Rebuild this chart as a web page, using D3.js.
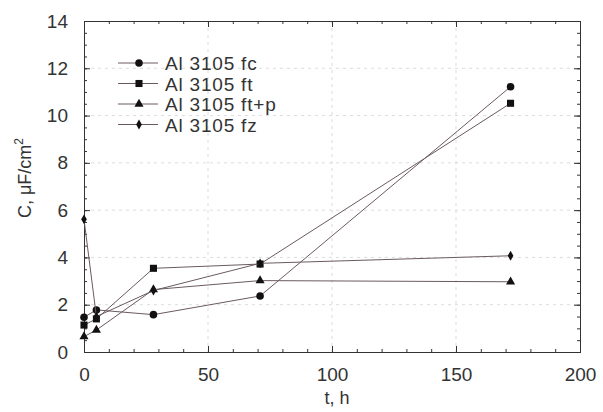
<!DOCTYPE html>
<html><head><meta charset="utf-8">
<script src="https://cdn.jsdelivr.net/npm/d3@7"></script>
<style>body{margin:0;background:#fff}text{font-family:"Liberation Sans",Arial,sans-serif;fill:#333}</style>
</head><body><svg id="c" width="603" height="412"></svg>
<script>
const times = [0, 5, 28, 71, 172];
const seriesNames = ["Al 3105 fc", "Al 3105 ft", "Al 3105 ft+p", "Al 3105 fz"];
const fcValues = [1.47, 1.78, 1.58, 2.37, 11.22];
const ftValues = [1.14, 1.40, 3.54, 3.72, 10.52];
const ftpValues = [0.65, 0.93, 2.64, 3.02, 2.97];
const fzValues = [5.61, 1.50, 2.60, 3.75, 4.07];
const markers = ["circle", "square", "triangle", "diamond"];
const xTicks = [0, 50, 100, 150, 200];
const yTicks = [0, 2, 4, 6, 8, 10, 12, 14];

const svg = d3.select("#c");
const L = 84, R = 580, T = 21, B = 352;
const x = d3.scaleLinear().domain([0, 200]).range([L, R]);
const y = d3.scaleLinear().domain([0, 14]).range([B, T]);
const ink = "#333";

// gridlines
const g = svg.append("g");
g.selectAll("line.gy").data(yTicks.slice(1, -1)).join("line")
  .attr("x1", L).attr("x2", R).attr("y1", d => y(d)).attr("y2", d => y(d))
  .attr("stroke", "#ccc").attr("stroke-width", 0.7).attr("stroke-dasharray", "3,4");
g.selectAll("line.gx").data(xTicks.slice(1, -1)).join("line")
  .attr("y1", T).attr("y2", B).attr("x1", d => x(d)).attr("x2", d => x(d))
  .attr("stroke", "#ccc").attr("stroke-width", 0.7).attr("stroke-dasharray", "3,4");

// axes (ticks on all four sides, inward)
const xMinor = d3.range(0, 201, 10), yMinor = d3.range(0, 14.01, 0.5);
function axisGroup(axis, tr) {
  const a = svg.append("g").attr("transform", tr).call(axis);
  a.select(".domain").attr("stroke", ink).attr("stroke-width", 1);
  a.selectAll(".tick line").attr("stroke", ink);
  return a;
}
axisGroup(d3.axisBottom(x).tickValues(xMinor).tickSize(-3).tickFormat(""), `translate(0,${B})`);
axisGroup(d3.axisTop(x).tickValues(xMinor).tickSize(-3).tickFormat(""), `translate(0,${T})`);
axisGroup(d3.axisLeft(y).tickValues(yMinor).tickSize(-3).tickFormat(""), `translate(${L},0)`);
axisGroup(d3.axisRight(y).tickValues(yMinor).tickSize(-3).tickFormat(""), `translate(${R},0)`);
const xb = axisGroup(d3.axisBottom(x).tickValues(xTicks).tickSize(-6).tickPadding(16).tickFormat(d3.format("d")), `translate(0,${B})`);
xb.selectAll("text").attr("font-size", 19).attr("fill", "#333");
axisGroup(d3.axisTop(x).tickValues(xTicks).tickSize(-6).tickFormat(""), `translate(0,${T})`);
const yl = axisGroup(d3.axisLeft(y).tickValues(yTicks).tickSize(-6).tickPadding(16).tickFormat(d3.format("d")), `translate(${L},0)`);
yl.selectAll("text").attr("font-size", 19).attr("fill", "#333");
axisGroup(d3.axisRight(y).tickValues(yTicks).tickSize(-6).tickFormat(""), `translate(${R},0)`);
svg.selectAll(".domain").attr("fill", "none");
svg.selectAll("g").attr("font-family", null);

// axis titles
svg.append("text").attr("x", 337).attr("y", 404).attr("text-anchor", "middle")
  .attr("font-size", 18).text("t, h");
const yt = svg.append("text").attr("transform", "translate(31,178) rotate(-90)")
  .attr("text-anchor", "middle").attr("font-size", 18);
yt.append("tspan").text("C, μF/cm");
yt.append("tspan").attr("font-size", 12).attr("dy", -8).text("2");

// series
const allSeries = [fcValues, ftValues, ftpValues, fzValues];
const symbolFor = {
  circle: d3.symbol().type(d3.symbolCircle).size(45),
  square: d3.symbol().type(d3.symbolSquare).size(50),
  triangle: d3.symbol().type(d3.symbolTriangle).size(36),
  diamond: d3.symbol().type(d3.symbolDiamond).size(28)
};
const line = d3.line().x(d => x(d[0])).y(d => y(d[1]));
allSeries.forEach((vals, i) => {
  const pts = times.map((t, j) => [t, vals[j]]);
  svg.append("path").attr("d", line(pts)).attr("fill", "none")
    .attr("stroke", "#6a5a5e").attr("stroke-width", 1);
  svg.selectAll(null).data(pts).join("path")
    .attr("transform", d => `translate(${x(d[0])},${y(d[1])})`)
    .attr("d", symbolFor[markers[i]]()).attr("fill", "#111");
});

// legend
const lg = svg.append("g");
seriesNames.forEach((name, i) => {
  const yy = 63 + i * 20.5;
  lg.append("line").attr("x1", 118).attr("x2", 158).attr("y1", yy).attr("y2", yy)
    .attr("stroke", "#6a5a5e").attr("stroke-width", 1);
  lg.append("path").attr("transform", `translate(139,${yy})`).attr("d", symbolFor[markers[i]]()).attr("fill", "#111");
  lg.append("text").attr("x", 165).attr("y", yy + 7).attr("font-size", 19)
    .attr("letter-spacing", 0.8).text(name);
});
</script></body></html>
